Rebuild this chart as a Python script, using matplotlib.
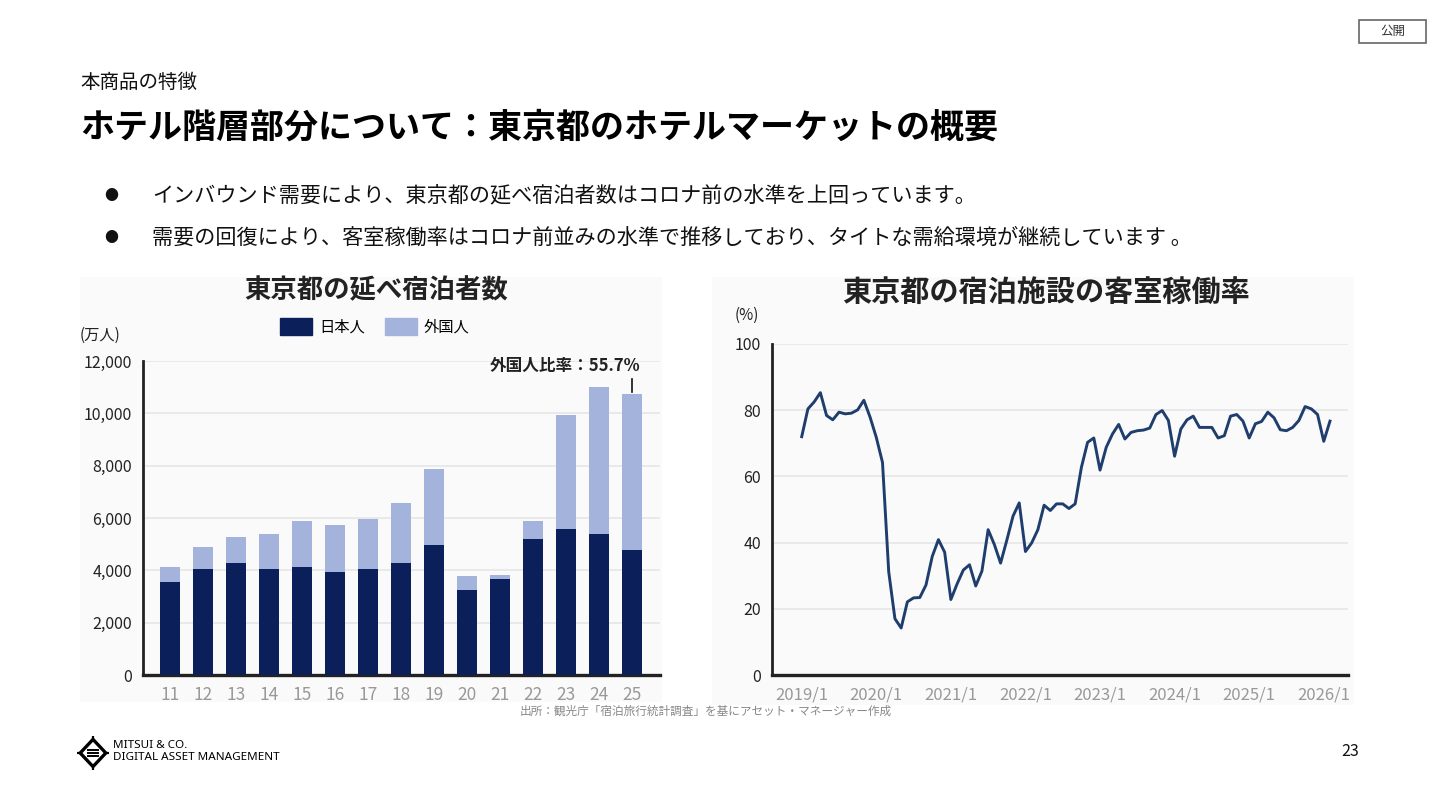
import matplotlib
matplotlib.use("Agg")
import matplotlib.pyplot as plt
from matplotlib.patches import Rectangle, Polygon, Patch
import numpy as np

plt.rcParams['font.family'] = ['Noto Sans CJK JP', 'DejaVu Sans']

# ========== データ ==========
years = ['11', '12', '13', '14', '15', '16', '17', '18', '19', '20', '21', '22', '23', '24', '25']
japanese = [3550, 4060, 4290, 4070, 4135, 3920, 4050, 4290, 4960, 3250, 3650, 5200, 5580, 5370, 4760]
foreign = [570, 825, 975, 1320, 1765, 1800, 1925, 2280, 2915, 520, 155, 675, 4350, 5630, 5984]

occ_ticks = ['2019/1', '2020/1', '2021/1', '2022/1', '2023/1', '2024/1', '2025/1', '2026/1']
occupancy = [72.0, 80.4, 82.5, 85.3, 78.4, 77.1, 79.4, 78.9, 79.1, 80.1, 83.0, 77.9,
             71.8, 64.2, 31.2, 17.0, 14.2, 22.1, 23.3, 23.4, 27.2, 35.8, 40.9, 37.1,
             22.8, 27.5, 31.7, 33.3, 26.9, 31.4, 43.9, 39.4, 33.8, 40.7, 48.0, 52.0,
             37.3, 39.9, 43.9, 51.3, 49.7, 51.7, 51.7, 50.3, 51.7, 62.7, 70.3, 71.6,
             61.9, 68.8, 72.8, 75.7, 71.3, 73.3, 73.8, 74.0, 74.6, 78.7, 79.9, 76.9,
             66.1, 74.3, 77.1, 78.2, 74.8, 74.8, 74.8, 71.6, 72.3, 78.2, 78.7, 76.7,
             71.6, 75.9, 76.6, 79.4, 77.7, 74.1, 73.8, 74.8, 76.9, 81.1, 80.4, 78.7,
             70.6, 76.7]

NAVY = '#0b1f5a'
LIGHT = '#a3b3db'
LINE = '#1f3e6d'
GRID = '#e6e6e6'
PANEL = '#fafafa'

W, H = 1440, 810
fig = plt.figure(figsize=(14.4, 8.1), dpi=100)


def fx(x):
    return x / W


def fy(y):
    return 1 - y / H


def box(l, t, r, b):
    return [fx(l), fy(b), (r - l) / W, (b - t) / H]


# パネル背景
fig.add_artist(Rectangle((fx(80), fy(702)), 582 / W, 425 / H, transform=fig.transFigure,
                         facecolor=PANEL, edgecolor='none', zorder=0))
fig.add_artist(Rectangle((fx(712), fy(705)), 642 / W, 428 / H, transform=fig.transFigure,
                         facecolor=PANEL, edgecolor='none', zorder=0))

# ========== ヘッダー ==========
fig.text(fx(80), fy(82), '本商品の特徴', fontsize=14, va='center', ha='left', color='#111')
fig.text(fx(80), fy(127), 'ホテル階層部分について：東京都のホテルマーケットの概要', fontsize=24.5,
         fontweight='bold', va='center', ha='left', color='#000')
bullets = ['インバウンド需要により、東京都の延べ宿泊者数はコロナ前の水準を上回っています。',
           '需要の回復により、客室稼働率はコロナ前並みの水準で推移しており、タイトな需給環境が継続しています 。']
for yy, b in zip([196, 238], bullets):
    fig.text(fx(111), fy(yy), '●', fontsize=10, va='center', ha='center', color='#111')
    fig.text(fx(152), fy(yy), b, fontsize=15.2, va='center', ha='left', color='#111')

# 公開
fig.add_artist(Rectangle((fx(1359), fy(43)), 67 / W, 23 / H, transform=fig.transFigure,
                         facecolor='white', edgecolor='#666', linewidth=1.2))
fig.text(fx(1392.5), fy(31.5), '公開', fontsize=9, va='center', ha='center', color='#333')

# ========== 図1：延べ宿泊者数 ==========
ax1 = fig.add_axes(box(143, 361, 660, 675))
ax1.patch.set_alpha(0)
x = np.arange(len(years))
ax1.bar(x, japanese, width=0.58, color=NAVY, zorder=3, label='日本人')
ax1.bar(x, foreign, width=0.58, bottom=japanese, color=LIGHT, zorder=3, label='外国人')
ax1.set_xlim(-0.82, 14.85)
ax1.set_ylim(0, 12000)
ax1.set_yticks(range(0, 12001, 2000))
ax1.set_yticklabels([f'{v:,}' for v in range(0, 12001, 2000)])
ax1.set_xticks(x)
ax1.set_xticklabels(years)
ax1.grid(axis='y', color=GRID, linewidth=1.2, zorder=0)
for s in ['top', 'right']:
    ax1.spines[s].set_visible(False)
ax1.spines['left'].set_linewidth(2)
ax1.spines['bottom'].set_linewidth(2.4)
ax1.spines['left'].set_color('#222')
ax1.spines['bottom'].set_color('#222')
ax1.tick_params(axis='y', length=0, pad=8, labelsize=11.5, labelcolor='#222')
ax1.tick_params(axis='x', length=0, pad=8, labelsize=12.5, labelcolor='#999')

total_last = japanese[-1] + foreign[-1]
ratio = foreign[-1] / total_last * 100
ax1.plot([14, 14], [total_last + 80, total_last + 560], color='#111', linewidth=1.2, clip_on=False)
ax1.text(14.27, 11816, f'外国人比率：{ratio:.1f}%', fontsize=12, fontweight='bold',
         ha='right', va='center', color='#222', clip_on=False)

handles = [Patch(color=NAVY), Patch(color=LIGHT)]
ax1.legend(handles, ['日本人', '外国人'], ncol=2, loc='center', bbox_to_anchor=(fx(375), fy(327)),
           bbox_transform=fig.transFigure, frameon=False, fontsize=11, handlelength=2.1,
           handleheight=1.3, handletextpad=0.45, columnspacing=1.3)

fig.text(fx(376), fy(291), '東京都の延べ宿泊者数', fontsize=19, fontweight='bold', ha='center',
         va='center', color='#222')
fig.text(fx(80), fy(335), '(万人)', fontsize=11, ha='left', va='center', color='#222')

# ========== 図2：客室稼働率 ==========
ax2 = fig.add_axes(box(772, 344, 1348, 675))
ax2.patch.set_alpha(0)
months = np.arange(len(occupancy))
ax2.plot(months, occupancy, color=LINE, linewidth=2.1, zorder=3)
ax2.set_xlim(-4.78, 87.9)
ax2.set_ylim(0, 100)
ax2.set_yticks(range(0, 101, 20))
ax2.set_xticks(np.arange(0, 12 * len(occ_ticks), 12))
ax2.set_xticklabels(occ_ticks)
ax2.grid(axis='y', color=GRID, linewidth=1.2, zorder=0)
for s in ['top', 'right']:
    ax2.spines[s].set_visible(False)
ax2.spines['left'].set_linewidth(2)
ax2.spines['bottom'].set_linewidth(2.4)
ax2.spines['left'].set_color('#222')
ax2.spines['bottom'].set_color('#222')
ax2.tick_params(axis='y', length=0, pad=8, labelsize=11.5, labelcolor='#222')
ax2.tick_params(axis='x', length=0, pad=8, labelsize=12, labelcolor='#999')

fig.text(fx(1046), fy(292), '東京都の宿泊施設の客室稼働率', fontsize=21, fontweight='bold', ha='center',
         va='center', color='#222')
fig.text(fx(735), fy(315), '(%)', fontsize=11, ha='left', va='center', color='#222')

# 出所
fig.text(fx(520), fy(711), '出所：観光庁「宿泊旅行統計調査」を基にアセット・マネージャー作成', fontsize=8.4,
         ha='left', va='center', color='#888')

# ========== フッター ==========
logo = fig.add_axes(box(77, 736, 109, 770))
logo.set_xlim(-1, 1)
logo.set_ylim(-1, 1)
logo.axis('off')
logo.add_patch(Polygon([[0, 0.8], [0.8, 0], [0, -0.8], [-0.8, 0]], closed=True, fill=False,
                       edgecolor='black', linewidth=2.4))
for yy in [0.2, 0, -0.2]:
    logo.plot([-0.3, 0.3], [yy, yy], color='black', linewidth=1.4)
logo.plot([0, 0], [0.8, 1.0], color='black', linewidth=1.6)
logo.plot([0, 0], [-0.8, -1.0], color='black', linewidth=1.6)
logo.plot([-0.8, -1.0], [0, 0], color='black', linewidth=1.6)
logo.plot([0.8, 1.0], [0, 0], color='black', linewidth=1.6)
fig.text(fx(113), fy(745), 'MITSUI & CO.', fontsize=8.4, fontweight='bold', family='Noto Sans',
         ha='left', va='center', color='#000')
fig.text(fx(113), fy(758), 'DIGITAL ASSET MANAGEMENT', fontsize=8.4, fontweight='bold', family='Noto Sans',
         ha='left', va='center', color='#000')
fig.text(fx(1350), fy(752), '23', fontsize=11.5, ha='center', va='center', color='#111')

fig.savefig('out.png', dpi=100)
